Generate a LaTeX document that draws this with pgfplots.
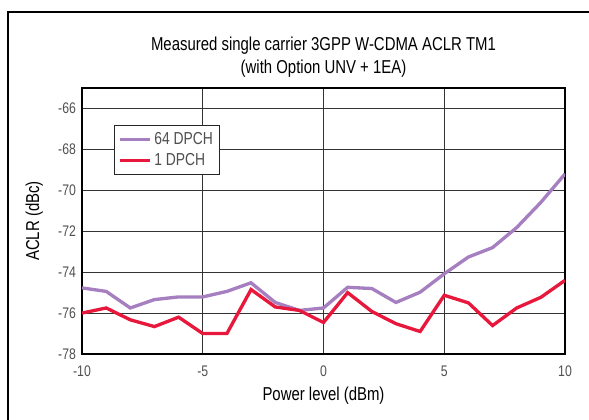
\documentclass[border=0pt]{standalone}
\usepackage{fontspec}
\setmainfont{Liberation Sans}[FakeStretch=0.8]
\usepackage{pgfplots}
\pgfplotsset{compat=1.18}
\definecolor{lav}{HTML}{A67FC0}
\definecolor{crim}{HTML}{E8173C}
\definecolor{tick}{HTML}{505050}
\begin{document}
\begin{tikzpicture}
% page = 589x419 px at 0.75pt/px, axis south west at origin
\useasboundingbox (-61.5pt,-48.75pt) rectangle (380.25pt,265.5pt);
\draw[line width=1.5pt] (-55.5pt,-60pt) -- (-55.5pt,256.5pt) -- (400pt,256.5pt);
\begin{axis}[
  width=362.25pt, height=199.5pt, scale only axis,
  xmin=-10, xmax=10, ymin=-78, ymax=-65,
  xtick={-10,-5,0,5,10}, ytick={-78,-76,...,-66},
  grid=major, major grid style={black!80, line width=0.8pt},
  axis line style={black, line width=1.1pt},
  major tick length=0pt,
  /pgf/number format/assume math mode=true,
  ticklabel style={font=\fontsize{11.5}{13}\selectfont, text=tick},
  yticklabel style={xshift=-1pt},
  xticklabel style={yshift=-5.5pt},
  xlabel={Power level (dBm)}, ylabel={ACLR (dBc)},
  label style={font=\fontsize{14}{16}\selectfont},
  xlabel style={yshift=-1pt},
  ylabel style={yshift=4.5pt},
  title={Measured single carrier 3GPP W-CDMA ACLR TM1\\(with Option UNV + 1EA)},
  title style={align=center, font=\fontsize{14}{17.5}\selectfont, yshift=-1.5pt},
  legend style={at={(0.066,0.861)}, anchor=north west, draw=black!85, line width=0.8pt,
    font=\fontsize{13}{14}\selectfont, text=tick, row sep=1.5pt, inner sep=3pt},
  legend cell align=left,
  legend image code/.code={\draw[#1, line width=2.2pt] (0cm,0cm) -- (0.8cm,0cm);},
]
\addplot[lav, line width=2.5pt] coordinates {
  (-10,-74.77) (-9,-74.94) (-8,-75.75) (-7,-75.34) (-6,-75.21) (-5,-75.21)
  (-4,-74.94) (-3,-74.52) (-2,-75.48) (-1,-75.87) (0,-75.75)
  (1,-74.74) (2,-74.80) (3,-75.48) (4,-74.98) (5,-74.08)
  (6,-73.26) (7,-72.80) (8,-71.82) (9,-70.59) (10,-69.20)};
\addlegendentry{64 DPCH}
\addplot[crim, line width=2.5pt] coordinates {
  (-10,-76.00) (-9,-75.75) (-8,-76.33) (-7,-76.66) (-6,-76.20) (-5,-77.00)
  (-4,-77.00) (-3,-74.85) (-2,-75.70) (-1,-75.87) (0,-76.46)
  (1,-75.00) (2,-75.92) (3,-76.52) (4,-76.90) (5,-75.13)
  (6,-75.50) (7,-76.61) (8,-75.75) (9,-75.23) (10,-74.40)};
\addlegendentry{1 DPCH}
\end{axis}
\end{tikzpicture}
\end{document}
